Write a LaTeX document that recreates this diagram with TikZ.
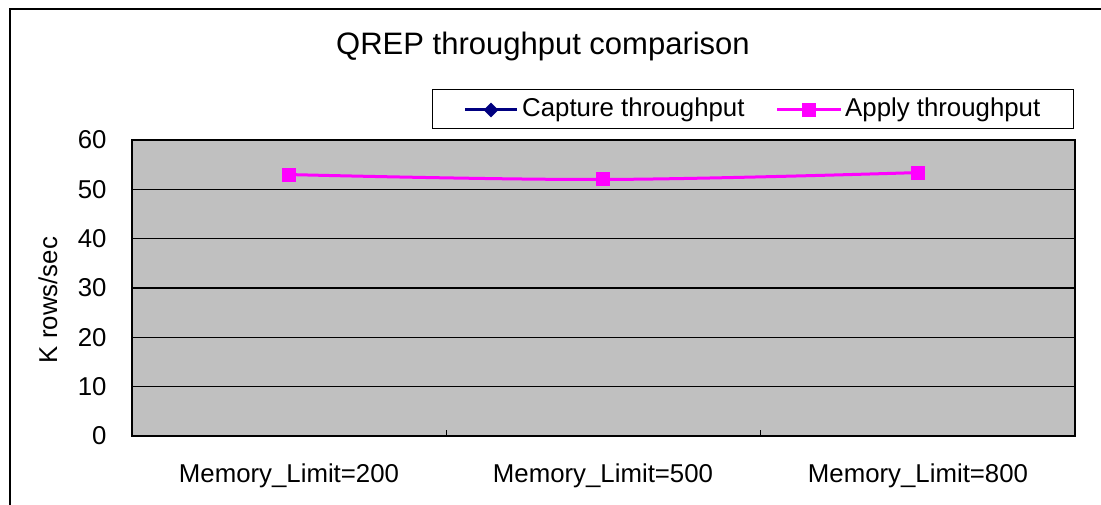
\documentclass[tikz,border=0pt]{standalone}
\usepackage{fontspec}
\setmainfont{Liberation Sans}
\usetikzlibrary{positioning,shapes.geometric,calc}

\definecolor{plotgray}{RGB}{192,192,192}
\definecolor{applymag}{RGB}{255,0,255}
\definecolor{capnavy}{RGB}{0,0,128}

\begin{document}
\begin{tikzpicture}[x=1pt,y=-1pt,
  axislabel/.style={font=\fontsize{25.8}{30}\selectfont},
  legendtext/.style={font=\fontsize{25.8}{30}\selectfont,anchor=west,inner sep=0pt},
  applymark/.style={fill=applymag,minimum size=14pt,inner sep=0pt},
  capmark/.style={diamond,fill=capnavy,minimum size=15pt,inner sep=0pt},
  gridline/.style={line width=1.1pt}]

\useasboundingbox (0,0) rectangle (1101,505);
\draw[line width=1.3pt] (10,505) -- (10,9) -- (1101,9); % chart frame

\node[font=\fontsize{31}{36}\selectfont] (title) at (543,46) {QREP throughput comparison};

% plot area
\coordinate (BL) at (132,436);
\coordinate (TR) at (1075,140);
\fill[plotgray] (BL) rectangle (TR);
\foreach \v in {10,20,...,60}
  \draw[gridline] (132,436-\v*4.933) -- (1075,436-\v*4.933);
\draw[line width=1.5pt] (TR) |- (BL) |- cycle;
\foreach \x in {446,760}
  \draw[line width=1pt] (\x,436) -- (\x,430);

\foreach \v in {0,10,...,60}
  \node[axislabel,anchor=east] (y\v) at (110,436-\v*4.933) {\v};
\node[axislabel,rotate=90] (ylab) at (48,300) {K rows/sec};

\node[axislabel] (c1) at (289,476) {Memory\_Limit=200};
\node[axislabel] (c2) at (603,476) {Memory\_Limit=500};
\node[axislabel] (c3) at (918,476) {Memory\_Limit=800};

% apply series
\coordinate (a1) at (289,436-53*4.933);
\coordinate (a2) at (603,436-52*4.933);
\coordinate (a3) at (918,436-53.4*4.933);
\draw[applymag,line width=3pt] plot[smooth,tension=0.6] coordinates {(a1) (a2) (a3)};
\foreach \p in {a1,a2,a3}
  \node[applymark] (m\p) at (\p) {};

% legend
\draw[line width=1pt,fill=white] (432,90) rectangle (1073,129);
\coordinate (capL) at (465,110);
\coordinate (capR) at (517,110);
\draw[capnavy,line width=3pt] (capL) -- (capR);
\node[capmark] (capM) at ($(capL)!0.5!(capR)$) {};
\node[legendtext] (capT) at (522,110) {Capture throughput};
\coordinate (appL) at (777,110);
\coordinate (appR) at (841,110);
\draw[applymag,line width=3pt] (appL) -- (appR);
\node[applymark] (appM) at ($(appL)!0.5!(appR)$) {};
\node[legendtext] (appT) at (845,110) {Apply throughput};

\end{tikzpicture}
\end{document}
